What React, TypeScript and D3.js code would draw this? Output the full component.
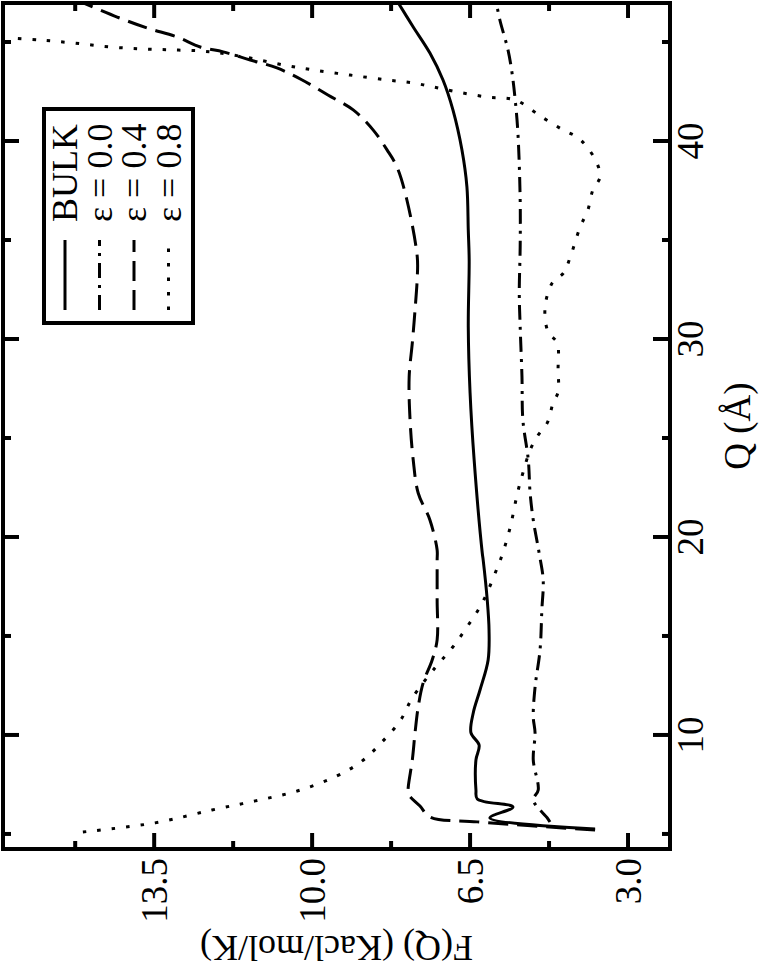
import React from "react";
import * as d3 from "d3";

// Q (Å) values and F(Q) (Kcal/mol/K) values for each series
const bulkQ = [5.25, 5.81, 6.36, 6.77, 7.22, 8.74, 9.49, 10.1, 11.11, 12.27, 13.79, 15.3, 16.82, 18.84, 19.19, 23.89, 27.27, 30.61, 33.99, 35.5, 37.68, 39.54, 41.57, 43.08, 44.44, 45.76, 46.97];
const bulkF = [3.73, 6.06, 5.55, 6.34, 6.37, 6.37, 6.3, 6.48, 6.43, 6.28, 6.1, 6.08, 6.12, 6.21, 6.23, 6.41, 6.5, 6.54, 6.52, 6.54, 6.57, 6.68, 6.88, 7.1, 7.39, 7.76, 8.09];

const e00Q = [5.6, 5.81, 6.72, 7.22, 8.74, 10.1, 10.91, 12.42, 14.29, 16.31, 17.83, 19.19, 20.86, 22.22, 23.89, 25.91, 28.08, 30.61, 32.32, 34.65, 37.02, 40.4, 42.07, 43.43, 44.6, 46.11, 47.0];
const e00F = [4.73, 4.79, 5.1, 4.99, 5.1, 5.06, 5.1, 5.06, 4.95, 4.91, 4.88, 4.97, 5.1, 5.17, 5.21, 5.33, 5.35, 5.39, 5.41, 5.39, 5.39, 5.44, 5.5, 5.57, 5.66, 5.84, 5.92];

const e04Q = [5.2, 5.61, 5.86, 6.41, 7.02, 7.37, 8.74, 10.1, 11.41, 12.63, 13.79, 14.8, 16.82, 18.84, 19.34, 20.86, 22.22, 23.89, 25.91, 28.08, 29.8, 31.46, 33.13, 34.14, 37.02, 38.69, 39.55, 40.56, 41.57, 42.32, 43.08, 43.69, 44.09, 44.5, 44.75, 45.25, 45.71, 46.26, 47.0];
const e04F = [3.73, 6.34, 7.39, 7.61, 7.87, 7.87, 7.78, 7.72, 7.65, 7.54, 7.34, 7.23, 7.23, 7.23, 7.23, 7.39, 7.65, 7.76, 7.83, 7.85, 7.78, 7.72, 7.67, 7.67, 7.9, 8.12, 8.34, 8.65, 9.09, 9.65, 10.22, 10.78, 11.37, 11.97, 12.48, 12.99, 13.66, 14.32, 15.1];

const e08Q = [5.1, 5.56, 6.21, 6.67, 7.17, 7.93, 8.69, 9.65, 10.71, 11.87, 13.38, 14.39, 15.45, 16.67, 18.43, 19.09, 20.5, 22.22, 23.23, 24.39, 25.15, 25.76, 26.77, 27.32, 28.43, 29.8, 30.35, 31.56, 32.83, 33.33, 34.14, 35.66, 36.51, 37.52, 38.18, 38.89, 39.7, 40.2, 40.56, 41.21, 42.07, 42.22, 42.47, 42.73, 42.93, 43.08, 43.33, 43.59, 43.84, 44.19, 44.44, 44.55, 44.6, 44.65, 44.75, 44.95, 45.1, 45.2];
const e08F = [15.08, 13.48, 12.22, 11.26, 10.33, 9.45, 8.89, 8.45, 8.05, 7.78, 7.28, 6.9, 6.57, 6.23, 5.9, 5.79, 5.61, 5.45, 5.33, 5.17, 4.99, 4.79, 4.66, 4.55, 4.55, 4.57, 4.77, 4.84, 4.68, 4.43, 4.28, 4.06, 3.89, 3.78, 3.62, 3.69, 3.91, 4.13, 4.44, 4.91, 5.5, 6.12, 6.77, 7.32, 7.76, 8.34, 9.16, 9.98, 10.64, 11.37, 12.04, 12.48, 13.08, 13.74, 14.48, 15.29, 16.03, 16.69];

const qMajorTicks = [10, 20, 30, 40];
const qMinorTicks = [5, 15, 25, 35, 45];
const fMajorTicks = [3.0, 6.5, 10.0, 13.5];
const fMinorTicks = [4.75, 8.25, 11.75, 15.25];

const legendLabels = ["BULK", "\u03b5 = 0.0", "\u03b5 = 0.4", "\u03b5 = 0.8"];
const dashes = ["none", "15,7,3,7", "20,9", "3.5,11"];

const FONT = "'Liberation Serif', 'Times New Roman', serif";

export default function App() {
  const W = 761, H = 969;
  const left = 3, right = 670, top = 3, bottom = 849;
  // rotated chart: F increases to the left, Q increases upward
  const fx = d3.scaleLinear().domain([2.07, 16.85]).range([right, left]);
  const qy = d3.scaleLinear().domain([4.24, 46.97]).range([bottom, top]);

  const series = [
    [bulkQ, bulkF],
    [e00Q, e00F],
    [e04Q, e04F],
    [e08Q, e08F],
  ];
  const line = d3
    .line<[number, number]>()
    .x((d) => fx(d[1]))
    .y((d) => qy(d[0]))
    .curve(d3.curveCatmullRom.alpha(0.5));

  const fmt = d3.format(".1f");

  // legend geometry
  const lgX = 44, lgY = 109, lgW = 149, lgH = 214;
  const rowBase = [77, 111.5, 146, 180.5];

  return (
    <svg width={W} height={H} style={{ position: "absolute", left: 0, top: 0, background: "#fff" }}>
      <defs>
        <clipPath id="plotclip">
          <rect x={left} y={top} width={right - left} height={bottom - top} />
        </clipPath>
      </defs>
      <rect x={0} y={0} width={W} height={H} fill="#fff" />

      {/* curves */}
      <g clipPath="url(#plotclip)" fill="none" stroke="#000" strokeWidth={3}>
        {series.map(([qs, fs], i) => (
          <path
            key={i}
            d={line(qs.map((q, j) => [q, fs[j]] as [number, number])) || ""}
            strokeDasharray={dashes[i] === "none" ? undefined : dashes[i]}
            strokeLinejoin="round"
          />
        ))}
      </g>

      {/* ticks */}
      <g stroke="#000" strokeWidth={4}>
        {qMajorTicks.map((q) => (
          <g key={"qM" + q}>
            <line x1={right} x2={right - 17} y1={qy(q)} y2={qy(q)} />
            <line x1={left} x2={left + 16} y1={qy(q)} y2={qy(q)} />
          </g>
        ))}
        {qMinorTicks.map((q) => (
          <g key={"qm" + q}>
            <line x1={right} x2={right - 8} y1={qy(q)} y2={qy(q)} />
            <line x1={left} x2={left + 8} y1={qy(q)} y2={qy(q)} />
          </g>
        ))}
        {fMajorTicks.map((f) => (
          <g key={"fM" + f}>
            <line x1={fx(f)} x2={fx(f)} y1={bottom} y2={bottom - 16} />
            <line x1={fx(f)} x2={fx(f)} y1={top} y2={top + 15} />
          </g>
        ))}
        {fMinorTicks.map((f) => (
          <g key={"fm" + f}>
            <line x1={fx(f)} x2={fx(f)} y1={bottom} y2={bottom - 8} />
            <line x1={fx(f)} x2={fx(f)} y1={top} y2={top + 8} />
          </g>
        ))}
      </g>

      {/* frame */}
      <rect x={left} y={top} width={right - left} height={bottom - top} fill="none" stroke="#000" strokeWidth={4} />

      {/* tick labels */}
      <g fontFamily={FONT} fontSize={37} fill="#000">
        {qMajorTicks.map((q) => (
          <text key={"ql" + q} transform={`translate(703,${qy(q)}) rotate(-90)`} textAnchor="middle">
            {q}
          </text>
        ))}
        {fMajorTicks.map((f) => (
          <text key={"fl" + f} transform={`translate(${fx(f) + 13},858) rotate(-90)`} textAnchor="end">
            {fmt(f)}
          </text>
        ))}
      </g>

      {/* axis titles */}
      <text
        fontFamily={FONT}
        fontSize={37}
        transform={`translate(750,${(top + bottom) / 2}) rotate(-90)`}
        textAnchor="middle"
      >
        Q (Å)
      </text>
      <text
        fontFamily={FONT}
        fontSize={36}
        transform={`translate(${(left + right) / 2},936) rotate(180)`}
        textAnchor="middle"
      >
        F(Q) (Kacl/mol/K)
      </text>

      {/* legend */}
      <rect x={lgX} y={lgY} width={lgW} height={lgH} fill="#fff" stroke="#000" strokeWidth={4} />
      {legendLabels.map((lab, i) => (
        <g key={lab}>
          <line
            x1={rowBase[i] - 12}
            x2={rowBase[i] - 12}
            y1={310}
            y2={240}
            stroke="#000"
            strokeWidth={3}
            strokeDasharray={dashes[i] === "none" ? undefined : dashes[i]}
          />
          <text
            fontFamily={FONT}
            fontSize={36}
            transform={`translate(${rowBase[i]},222) rotate(-90)`}
            textAnchor="start"
          >
            {lab}
          </text>
        </g>
      ))}
    </svg>
  );
}
